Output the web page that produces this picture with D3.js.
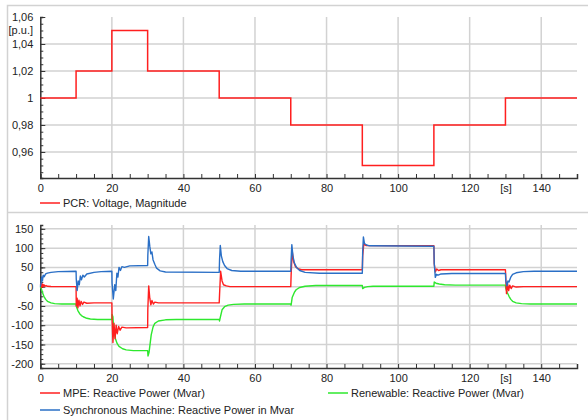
<!DOCTYPE html>
<html>
<head>
<meta charset="utf-8">
<script src="https://cdn.jsdelivr.net/npm/d3@7"></script>
<style>
  html, body { margin: 0; padding: 0; background: #fff; }
  svg { display: block; font-family: "Liberation Sans", Arial, sans-serif; }
  .tick text { fill: #222; font-size: 11px; }
  .legend text { fill: #222; font-size: 11px; }
</style>
</head>
<body>
<svg id="chart" width="588" height="420"></svg>
<script>
// ---- Time axis (seconds) ----
const timeTicks = [0, 20, 40, 60, 80, 100, 120, 140];
const timeMinor = d3.range(0, 151, 5);
const timeUnit = "[s]";

// ---- Voltage at PCR (p.u.), stepped set-point changes ----
const stepTimes = [0, 10, 20, 30, 50, 70, 90, 110, 130, 150];
const voltageLevels = [1.00, 1.02, 1.05, 1.02, 1.00, 0.98, 0.95, 0.98, 1.00, 1.00];
const voltageTicks = [1.06, 1.04, 1.02, 1.00, 0.98, 0.96];
const voltageTickLabels = ["1,06", "1,04", "1,02", "1", "0,98", "0,96"];
const voltageUnit = "[p.u.]";

// ---- Reactive power (Mvar) ----
const qTicks = [150, 100, 50, 0, -50, -100, -150, -200];

const mpeQ = [
  [0,5],[0.2,8],[0.4,-2],[0.6,7],[0.8,0],[1.0,5],[1.3,1],[1.6,3],[2,1],[3,0.5],[10,0],
  [10.05,-50],[10.3,-30],[10.5,-55],[10.8,-35],[11.1,-50],[11.4,-38],[11.8,-46],[12.2,-40],[13,-43],[15,-42],[20,-42],
  [20.05,-80],[20.3,-145],[20.6,-95],[20.9,-135],[21.2,-100],[21.5,-122],[21.9,-103],[22.3,-113],[22.8,-105],[24,-107],[30,-106],
  [30.05,-60],[30.3,2],[30.6,-30],[30.9,-47],[31.2,-36],[31.6,-45],[32,-40],[33,-42],[50,-42],
  [50.1,-20],[50.4,40],[50.8,15],[51.2,5],[52,2],[53,0],[70,0],
  [70.1,30],[70.4,92],[70.8,65],[71.3,52],[72,47],[73,44],[90,44],
  [90.1,80],[90.4,110],[91,107],[110,106],
  [110.1,60],[110.4,38],[110.8,46],[111.3,42],[112,44],[130,44],
  [130.1,20],[130.3,-18],[130.6,8],[130.9,-10],[131.2,4],[131.6,-5],[132,2],[133,-1],[135,0],[150,0]
];

const renewableQ = [
  [0,0],[0.3,-5],[0.6,-15],[1,-25],[1.5,-33],[2,-38],[3,-42],[4,-44],[6,-45],[10,-45],
  [10.1,-52],[10.5,-62],[11,-70],[11.5,-75],[12,-78],[13,-82],[14,-84],[16,-85],[20,-85],
  [20.05,-72],[20.3,-78],[20.5,-110],[21,-135],[21.5,-148],[22,-155],[23,-161],[24,-164],[26,-166],[30,-166],
  [30.1,-180],[30.4,-170],[31,-125],[31.5,-105],[32,-95],[33,-89],[35,-86],[38,-85],[50,-85],
  [50.1,-89],[50.3,-80],[50.8,-60],[51.5,-52],[52.5,-48],[54,-46],[57,-45],[70,-45],
  [70.1,-48],[70.4,-28],[71,-15],[71.5,-8],[72.5,-2],[74,1],[77,3],[90,3],
  [90.1,-5],[90.6,-2],[91.5,0],[93,1],[110,1],
  [110.1,12],[110.6,9],[111.5,7],[113,5],[116,4],[130,4],
  [130.1,-5],[130.5,-15],[131,-25],[131.5,-33],[132,-38],[133,-42],[134.5,-44],[137,-45],[150,-45]
];

const syncQ = [
  [0,0],[0.2,8],[0.4,25],[0.6,15],[0.8,30],[1.1,26],[1.5,33],[2,35],[3,37],[5,39],[10,40],
  [10.05,20],[10.3,-10],[10.6,15],[10.9,5],[11.2,28],[11.5,18],[11.9,30],[12.3,25],[13,33],[15,37],[17,39],[20,40],
  [20.05,10],[20.4,-32],[20.8,5],[21.1,-10],[21.4,35],[21.7,25],[22,50],[22.4,42],[22.8,52],[23.5,50],[25,54],[30,55],
  [30.05,80],[30.3,130],[30.6,105],[30.9,85],[31.2,90],[31.5,70],[32,58],[32.5,48],[33.5,41],[35,38],[50,37],
  [50.1,70],[50.3,107],[50.6,80],[51,65],[51.5,55],[52.2,47],[53.5,42],[56,40],[70,40],
  [70.1,70],[70.3,109],[70.6,80],[71,62],[71.6,50],[72.5,42],[74,37],[78,35],[90,35],
  [90.1,90],[90.3,129],[90.6,112],[91.2,108],[92,106],[110,105],
  [110.1,60],[110.4,24],[110.7,32],[111.2,30],[112,33],[115,34],[130,34],
  [130.1,15],[130.4,2],[130.7,15],[131,12],[131.5,25],[132,32],[133,36],[135,39],[138,40],[150,40]
];

const seriesNames = {
  voltage: "PCR: Voltage, Magnitude",
  mpe: "MPE: Reactive Power (Mvar)",
  renewable: "Renewable: Reactive Power (Mvar)",
  sync: "Synchronous Machine: Reactive Power in Mvar"
};
const colors = { red: "#ff1f1f", green: "#2ee82e", blue: "#2a6fc6" };

// ---- Layout ----
const svg = d3.select("#chart");
const GRID = "#d2d2d2";
const AXIS = "#333";

const x = d3.scaleLinear().domain([0, 150]).range([40.3, 577]);
const yV = d3.scaleLinear().domain([0.9407, 1.06]).range([178, 17]);
const yQ = d3.scaleLinear().domain([-211, 160]).range([368, 225]);

// panel frame lines
svg.append("path").attr("d", "M7.5,420V5.5H588").attr("fill", "none").attr("stroke", GRID).attr("stroke-width", 1.5);
svg.append("line").attr("x1", 7).attr("x2", 588).attr("y1", 212.5).attr("y2", 212.5).attr("stroke", GRID).attr("stroke-width", 1.5);

function drawPanel(y, yMajor, yMinor, yFormat) {
  const top = y.range()[1], bottom = y.range()[0];
  const g = svg.append("g");
  // horizontal grid
  g.selectAll(".hg").data(yMajor.filter(v => y(v) > top + 2)).join("line")
    .attr("x1", x.range()[0]).attr("x2", x.range()[1])
    .attr("y1", d => y(d)).attr("y2", d => y(d))
    .attr("stroke", GRID).attr("stroke-width", 1.5);
  // vertical grid
  g.selectAll(".vg").data(timeTicks.filter(t => t > 0)).join("line")
    .attr("x1", d => x(d)).attr("x2", d => x(d))
    .attr("y1", top).attr("y2", bottom)
    .attr("stroke", GRID).attr("stroke-width", 1.5);

  // x axis: minor ticks, then labelled ticks
  const xMinorAxis = d3.axisBottom(x).tickValues(timeMinor).tickSize(-4).tickFormat("");
  const xa1 = g.append("g").attr("transform", `translate(0,${bottom})`).call(xMinorAxis);
  xa1.selectAll("line").attr("stroke", AXIS);
  xa1.select(".domain").attr("stroke", AXIS).attr("stroke-width", 1.5);
  const xLabels = timeTicks.concat([130]);
  const xMajorAxis = d3.axisBottom(x).tickValues(xLabels).tickSize(0).tickPadding(6)
    .tickFormat(d => d === 130 ? timeUnit : String(d));
  const xa2 = g.append("g").attr("transform", `translate(0,${bottom})`).call(xMajorAxis);
  xa2.select(".domain").remove();
  xa2.selectAll("text").attr("font-size", 11);

  // y axis
  const yMinorAxis = d3.axisLeft(y).tickValues(yMinor).tickSize(-3).tickFormat("");
  const ya1 = g.append("g").attr("transform", `translate(${x.range()[0]},0)`).call(yMinorAxis);
  ya1.selectAll("line").attr("stroke", AXIS);
  ya1.select(".domain").attr("stroke", AXIS).attr("stroke-width", 1.5);
  const yMajorAxis = d3.axisLeft(y).tickValues(yMajor).tickSize(-5).tickPadding(7).tickFormat(yFormat);
  const ya2 = g.append("g").attr("transform", `translate(${x.range()[0]},0)`).call(yMajorAxis);
  ya2.select(".domain").remove();
  ya2.selectAll("line").attr("stroke", AXIS);
  ya2.selectAll("text").attr("font-size", 11);
  return g;
}

// ---- Top panel: voltage ----
const vMinor = d3.range(0, 24).map(i => +(0.945 + i * 0.005).toFixed(3)).filter(v => v <= 1.06);
const gTop = drawPanel(yV, voltageTicks, vMinor, d => voltageTickLabels[voltageTicks.indexOf(d)]);
gTop.append("text").attr("x", 33).attr("y", yV(1.05)).attr("dy", "0.32em")
  .attr("text-anchor", "end").attr("font-size", 11).attr("fill", "#222").text(voltageUnit);

const voltagePts = stepTimes.map((t, i) => [t, voltageLevels[i]]);
svg.append("path").datum(voltagePts)
  .attr("fill", "none").attr("stroke", colors.red).attr("stroke-width", 1.5)
  .attr("d", d3.line().x(d => x(d[0])).y(d => yV(d[1])).curve(d3.curveStepAfter));

// ---- Bottom panel: reactive power ----
const qMinor = d3.range(-200, 161, 12.5);
drawPanel(yQ, qTicks, qMinor, d => String(d));

const qLine = d3.line().x(d => x(d[0])).y(d => yQ(d[1]));
[[renewableQ, colors.green], [mpeQ, colors.red], [syncQ, colors.blue]].forEach(([data, c]) => {
  svg.append("path").datum(data)
    .attr("fill", "none").attr("stroke", c).attr("stroke-width", 1.4)
    .attr("stroke-linejoin", "round").attr("d", qLine);
});

// ---- Legends ----
function legendItem(xPos, yPos, color, label) {
  const g = svg.append("g").attr("class", "legend");
  g.append("line").attr("x1", xPos).attr("x2", xPos + 20).attr("y1", yPos).attr("y2", yPos)
    .attr("stroke", color).attr("stroke-width", 1.5);
  g.append("text").attr("x", xPos + 23).attr("y", yPos).attr("dy", "0.35em").text(label);
}
legendItem(40, 203, colors.red, seriesNames.voltage);
legendItem(40, 393, colors.red, seriesNames.mpe);
legendItem(328, 393, colors.green, seriesNames.renewable);
legendItem(40, 410, colors.blue, seriesNames.sync);
</script>
</body>
</html>
